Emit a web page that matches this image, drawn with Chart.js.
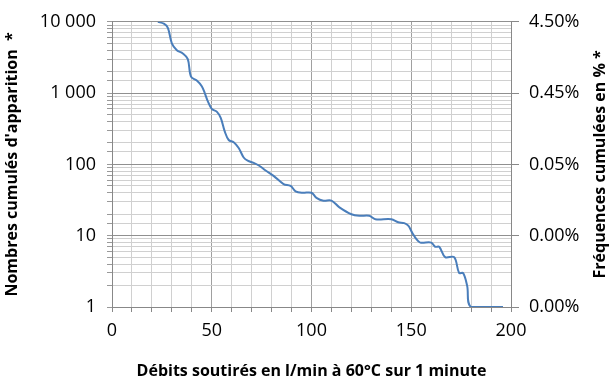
<!DOCTYPE html>
<html>
<head>
<meta charset="utf-8">
<script src="https://cdn.jsdelivr.net/npm/chart.js@4"></script>
<style>
  html, body { margin: 0; padding: 0; background: #fff; }
  #wrap { width: 612px; height: 383px; }
</style>
</head>
<body>
<div id="wrap"><canvas id="chart" width="612" height="383"></canvas></div>
<script>
// flow rate (l/min) and cumulative counts
const flows = [23, 26, 28, 30, 32.5, 35.5, 38, 39.6, 42.5, 45, 46.5, 48, 50, 52.5, 54.5, 56.5, 58.5, 61, 63.5, 66, 68, 71, 74, 77, 81, 86, 89.5, 92, 95.5, 100, 102.5, 106, 110, 114, 120, 124, 129, 132, 140, 143.5, 146.5, 148.5, 150.5, 152.5, 154.5, 160, 162, 164, 167, 171.5, 174, 176, 178, 180, 196];
const counts = [10000, 9400, 8250, 5000, 4000, 3600, 3000, 1700, 1500, 1250, 1000, 770, 600, 550, 450, 290, 220, 205, 170, 125, 113, 105, 95, 82, 69, 53, 50, 42, 40, 40, 34, 31, 31, 25, 20, 19, 19, 17, 17, 15.4, 15, 13.8, 11, 9, 8, 8, 7, 7, 5, 5, 3, 3, 2, 1, 1];

const decades = [1, 10, 100, 1000, 10000];
const leftLabels = ['1', '10', '100', '1 000', '10 000'];
const rightLabels = ['0.00%', '0.00%', '0.05%', '0.45%', '4.50%'];
const xLabels = [0, 50, 100, 150, 200];
const rightTitle = 'Fréquences cumulées en % *';

const isDecade = v => decades.indexOf(v) !== -1;
const font = { family: 'Open Sans', size: 18 };
const titleFont = { family: 'Open Sans', size: 16, weight: 'bold' };

// chart.js turns a right-hand title the other way round, so draw it here
const rightTitlePlugin = {
  id: 'rightTitle',
  afterDraw(chart) {
    const ctx = chart.ctx;
    const area = chart.chartArea;
    ctx.save();
    ctx.translate(600, (area.top + area.bottom) / 2);
    ctx.rotate(-Math.PI / 2);
    ctx.font = 'bold 16px "Open Sans"';
    ctx.fillStyle = '#000';
    ctx.textAlign = 'center';
    ctx.textBaseline = 'middle';
    ctx.fillText(rightTitle, 0, 0);
    ctx.restore();
  }
};

new Chart(document.getElementById('chart'), {
  type: 'line',
  data: {
    datasets: [{
      data: flows.map((f, i) => ({ x: f, y: counts[i] })),
      borderColor: '#4a7ebb',
      borderWidth: 2,
      pointRadius: 0,
      tension: 0.35,
      fill: false
    }]
  },
  options: {
    responsive: false,
    animation: false,
    layout: { padding: { top: 20, bottom: 0 } },
    plugins: { legend: { display: false }, tooltip: { enabled: false } },
    scales: {
      x: {
        type: 'linear',
        min: 0,
        max: 200,
        afterFit: s => { s.height = 76; },
        ticks: {
          stepSize: 10,
          autoSkip: false,
          maxRotation: 0,
          padding: 8,
          color: '#000',
          font: font,
          callback: v => xLabels.indexOf(v) !== -1 ? String(v) : ''
        },
        grid: {
          color: c => c.tick && c.tick.value % 50 === 0 ? '#a0a0a0' : '#d0d0d0',
          tickColor: '#888',
          tickLength: 5
        },
        border: { color: '#888' },
        title: {
          display: true,
          text: 'Débits soutirés en l/min à 60°C sur 1 minute',
          color: '#000',
          font: titleFont,
          padding: { top: 0, bottom: 2 }
        }
      },
      y: {
        type: 'logarithmic',
        position: 'left',
        min: 1,
        max: 10000,
        afterFit: s => { s.width = 112; },
        ticks: {
          autoSkip: false,
          padding: 11,
          color: '#000',
          font: font,
          callback: v => isDecade(v) ? leftLabels[decades.indexOf(v)] : ''
        },
        grid: {
          color: c => c.tick && isDecade(c.tick.value) ? '#909090' : '#d0d0d0',
          tickColor: '#999',
          tickLength: 5
        },
        border: { color: '#888' },
        title: {
          display: true,
          text: "Nombres cumulés d'apparition  *",
          color: '#000',
          font: titleFont,
          padding: { top: 3, bottom: 0 }
        }
      },
      y2: {
        type: 'logarithmic',
        position: 'right',
        min: 1,
        max: 10000,
        afterFit: s => { s.width = 101; },
        ticks: {
          autoSkip: false,
          padding: 10,
          color: '#000',
          font: font,
          callback: v => isDecade(v) ? rightLabels[decades.indexOf(v)] : ''
        },
        grid: {
          drawOnChartArea: false,
          tickColor: c => c.tick && isDecade(c.tick.value) ? '#888' : 'rgba(0,0,0,0)',
          tickLength: 8
        },
        border: { color: '#888' }
      }
    }
  },
  plugins: [rightTitlePlugin]
});
</script>
</body>
</html>
